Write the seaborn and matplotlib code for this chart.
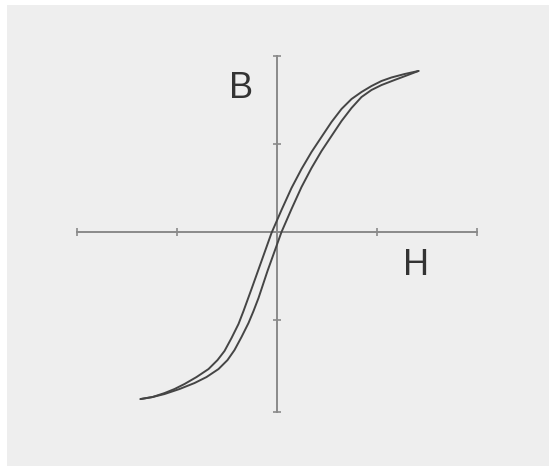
import matplotlib
matplotlib.use("Agg")
import matplotlib.pyplot as plt
from matplotlib.patches import Rectangle
import seaborn as sns
import pandas as pd

# Hysteresis loop: descending (upper/left) branch
h_desc = [-1.365, -1.245, -1.125, -1.025, -0.925, -0.805, -0.685, -0.595, -0.525,
          -0.455, -0.385, -0.335, -0.255, -0.155, -0.055, 0.045, 0.145, 0.245,
          0.345, 0.445, 0.545, 0.645, 0.745, 0.845, 0.945, 1.045, 1.145, 1.275,
          1.415]
b_desc = [-1.898, -1.875, -1.830, -1.784, -1.727, -1.648, -1.557, -1.455, -1.352,
          -1.205, -1.045, -0.898, -0.648, -0.330, -0.011, 0.250, 0.500, 0.716,
          0.909, 1.080, 1.250, 1.398, 1.511, 1.591, 1.659, 1.716, 1.756, 1.795,
          1.830]

# ascending (lower/right) branch
h_asc = [-1.365, -1.245, -1.125, -0.975, -0.825, -0.705, -0.585, -0.495, -0.425,
         -0.355, -0.285, -0.235, -0.185, -0.095, 0.045, 0.145, 0.245, 0.345,
         0.445, 0.545, 0.645, 0.745, 0.845, 0.945, 1.045, 1.175, 1.295, 1.415]
b_asc = [-1.898, -1.875, -1.841, -1.784, -1.716, -1.648, -1.557, -1.455, -1.341,
         -1.193, -1.034, -0.898, -0.750, -0.443, 0.0, 0.261, 0.511, 0.727,
         0.920, 1.091, 1.261, 1.409, 1.534, 1.614, 1.670, 1.727, 1.778, 1.830]

x_ticks = [-2, -1, 1, 2]
y_ticks = [-2.045, -1, 1, 2]
x_label = "H"
y_label = "B"

sns.set_style("white")
plt.rcParams["font.family"] = ["Liberation Sans", "DejaVu Sans"]

fig = plt.figure(figsize=(5.54, 4.71), dpi=100)
fig.patch.set_facecolor("white")
fig.patches.append(Rectangle((7 / 554, 5 / 471), 542 / 554, 461 / 471,
                             transform=fig.transFigure, facecolor="#eeeeee",
                             edgecolor="none", zorder=-10))

ax = fig.add_axes([77 / 554, 59 / 471, 400 / 554, 356 / 471])
ax.set_facecolor("none")
ax.set_zorder(1)

curve_color = "#454545"
df_desc = pd.DataFrame({"H": h_desc, "B": b_desc})
df_asc = pd.DataFrame({"H": h_asc, "B": b_asc})
for df in (df_desc, df_asc):
    sns.lineplot(data=df, x="H", y="B", sort=False, estimator=None,
                 color=curve_color, lw=1.4, ax=ax, zorder=3,
                 solid_joinstyle="round", solid_capstyle="round")

ax.set_xlim(x_ticks[0], x_ticks[-1])
ax.set_ylim(y_ticks[0], y_ticks[-1])

axis_color = "#8a8a8a"
for side in ["top", "right"]:
    ax.spines[side].set_visible(False)
for side in ["left", "bottom"]:
    ax.spines[side].set_position("zero")
    ax.spines[side].set_color(axis_color)
    ax.spines[side].set_linewidth(1.4)
    ax.spines[side].set_zorder(2)

ax.set_xticks(x_ticks)
ax.set_yticks(y_ticks)
ax.set_xticklabels([])
ax.set_yticklabels([])
ax.tick_params(direction="inout", length=6, width=1.2, color=axis_color,
               bottom=True, left=True)
ax.set_xlabel("")
ax.set_ylabel("")

ax.text(-0.355, 1.636, y_label, fontsize=26, color="#333333",
        ha="center", va="center")
ax.text(1.395, -0.375, x_label, fontsize=26, color="#333333",
        ha="center", va="center")

fig.savefig("out.png", dpi=100)
